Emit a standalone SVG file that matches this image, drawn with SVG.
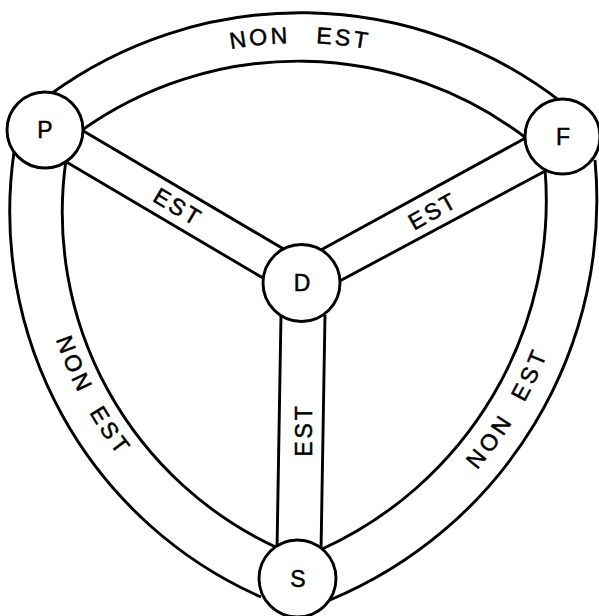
<svg xmlns="http://www.w3.org/2000/svg" width="599" height="616" viewBox="0 0 599 616">
<style>
.ln{fill:none;stroke:#000;stroke-width:2.9}
.nd{fill:#fff;stroke:#000;stroke-width:2.9}
.t{font-family:"Liberation Sans",Arial,sans-serif;font-size:23px;fill:#000;stroke:#000;stroke-width:0.5}
.lb{font-family:"Liberation Sans",Arial,sans-serif;font-size:23px;fill:#000;stroke:#000;stroke-width:0.5;text-anchor:middle}
</style>
<defs>
<path id="pTop" d="M103,95.8 A394,394 0 0 1 497,95.8"/>
<path id="pLeft" d="M43.1,132 A398,398 0 0 0 286.5,582.1"/>
<path id="pRight" d="M297.1,592.4 A415,415 0 0 0 571.9,135.1"/>
</defs>
<rect width="599" height="616" fill="#fff"/>
<g id="connectors">
<path class="ln" d="M50,94.5 A425,425 0 0 1 562,102.5"/>
<path class="ln" d="M80,131.5 A375,375 0 0 1 528,139.5"/>
<path class="ln" d="M14,152 A421,421 0 0 0 261,597"/>
<path class="ln" d="M66,160 A369,369 0 0 0 280,549"/>
<path class="ln" d="M595,160 A433,433 0 0 1 330,600"/>
<path class="ln" d="M545,169 A383,383 0 0 1 320,550"/>
<line class="ln" x1="80" y1="129" x2="287" y2="251"/>
<line class="ln" x1="63" y1="160" x2="268" y2="281"/>
<line class="ln" x1="531" y1="135" x2="319" y2="251"/>
<line class="ln" x1="549" y1="169" x2="336" y2="283"/>
<line class="ln" x1="281" y1="315" x2="277" y2="550"/>
<line class="ln" x1="325" y1="315" x2="321" y2="552"/>
<text class="t" text-anchor="middle" letter-spacing="3" word-spacing="16"><textPath href="#pTop" startOffset="50%">NON EST</textPath></text>
<text class="t" text-anchor="middle" letter-spacing="3.5" word-spacing="9"><textPath href="#pLeft" startOffset="50%">NON EST</textPath></text>
<text class="t" text-anchor="middle" letter-spacing="4" word-spacing="9"><textPath href="#pRight" startOffset="50%">NON EST</textPath></text>
<text class="t" text-anchor="middle" letter-spacing="2.5" transform="translate(178,207) rotate(30.8)" x="0" y="8">EST</text>
<text class="t" text-anchor="middle" letter-spacing="2.5" transform="translate(433,211) rotate(-29.2)" x="0" y="8">EST</text>
<text class="t" text-anchor="middle" letter-spacing="3" transform="translate(303.5,430) rotate(-90)" x="0" y="8">EST</text>
</g>
<g id="node-P"><circle class="nd" cx="45" cy="130" r="38"/><text class="lb" x="45" y="138">P</text></g>
<g id="node-F"><circle class="nd" cx="562.5" cy="136.5" r="37.5"/><text class="lb" x="563" y="145">F</text></g>
<g id="node-D"><circle class="nd" cx="301.5" cy="283" r="38.5"/><text class="lb" x="302" y="291">D</text></g>
<g id="node-S"><circle class="nd" cx="297.5" cy="578.5" r="38.5"/><text class="lb" x="298" y="587">S</text></g>
</svg>
